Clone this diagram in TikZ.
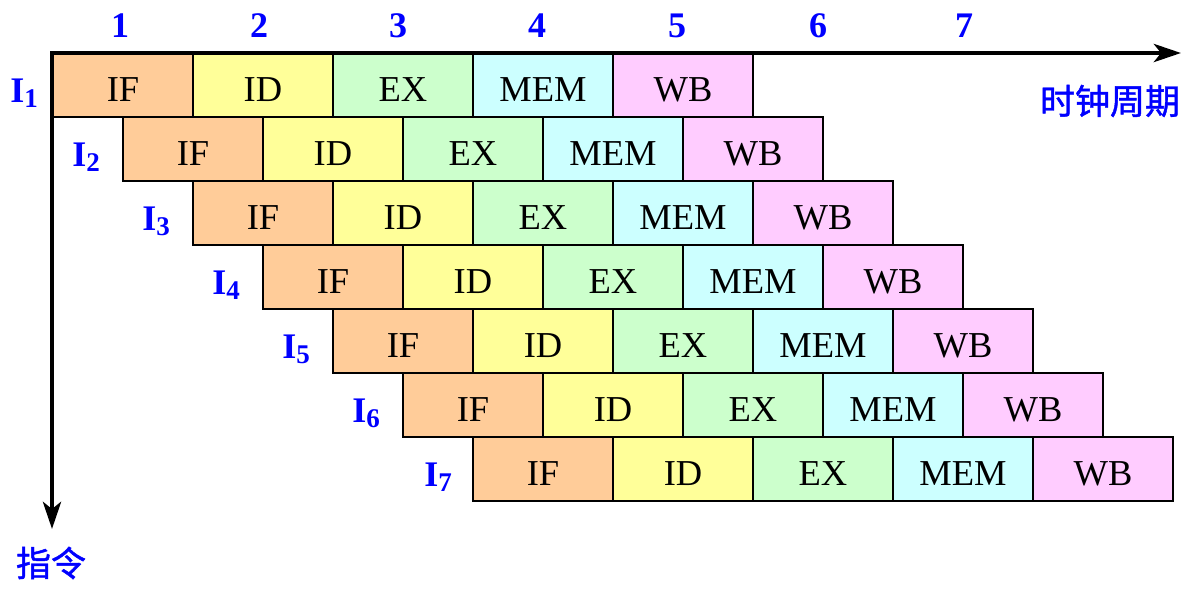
\documentclass[tikz,border=0pt]{standalone}
\usepackage{fontspec}
\setmainfont{Liberation Serif}
\newfontfamily\cjk{Noto Sans CJK SC}[FakeBold=1.2]
\usetikzlibrary{arrows.meta}
\definecolor{axisblue}{RGB}{0,0,255}
\definecolor{cIF}{RGB}{255,204,153}
\definecolor{cID}{RGB}{255,255,153}
\definecolor{cEX}{RGB}{204,255,204}
\definecolor{cMEM}{RGB}{204,255,255}
\definecolor{cWB}{RGB}{255,204,255}
\tikzset{
  stagebox/.style={draw=black, line width=2.4pt, rectangle, minimum width=140pt,
    minimum height=64pt, inner sep=0pt, outer sep=0pt,
    text height=32pt, text depth=0pt,
    font=\fontsize{36.5}{36.5}\selectfont},
  instlabel/.style={text=axisblue, inner sep=0pt, anchor=base east,
    font=\fontsize{36}{36}\selectfont\bfseries},
  cyclelabel/.style={text=axisblue, inner sep=0pt,
    font=\fontsize{36}{36}\selectfont\bfseries},
  axislabel/.style={text=axisblue, inner sep=0pt,
    font=\fontsize{35}{35}\selectfont\cjk},
  axisline/.style={line width=4.6pt, line join=miter,
    {Stealth[length=27pt, width=18pt, inset=7pt]}-{Stealth[length=27pt, width=18pt, inset=7pt]}}
}
\newcommand{\instsub}[1]{I\raisebox{-5pt}{\fontsize{27}{27}\selectfont #1}}
\begin{document}
\begin{tikzpicture}[x=1pt, y=-1pt]
  \useasboundingbox (0,0) rectangle (1204,606);
  % pipeline stages, one row per instruction, each shifted by half a cycle
  \foreach \r in {1,...,7}{
    \foreach \s/\name in {0/IF,1/ID,2/EX,3/MEM,4/WB}{
      \node[stagebox, fill=c\name] (r\r s\s)
        at ({53+70*(\r-1)+140*\s+70}, {53+64*(\r-1)+32}) {\name};
    }
  }
  % instruction labels to the left of each row
  \foreach \r/\x in {1/38,2/100,3/170,4/240,5/310,6/380,7/452}{
    \node[instlabel] (lab\r) at (\x, {102+64*(\r-1)}) {\instsub{\r}};
  }
  % clock cycle numbers
  \foreach \n/\x in {1/120,2/259,3/398,4/537,5/677,6/818,7/964}{
    \node[cyclelabel] (c\n) at (\x, 26) {\n};
  }
  % axes
  \coordinate (origin) at (52, 53);
  \coordinate (xtip) at (1181, 53);
  \coordinate (ytip) at (52, 529);
  \draw[axisline] (ytip) -- (origin) -- (xtip);
  \node[axislabel] (xlab) at (1110, 101) {时钟周期};
  \node[axislabel] (ylab) at (51, 563) {指令};
\end{tikzpicture}
\end{document}
